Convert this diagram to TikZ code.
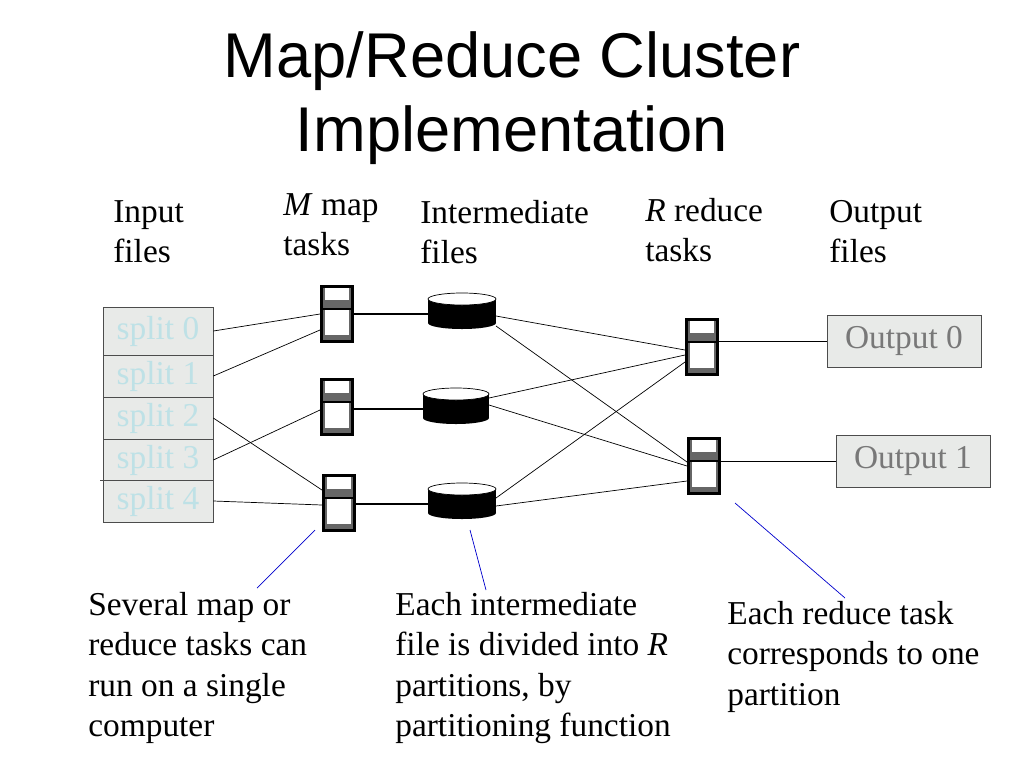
\documentclass[tikz,border=0pt]{standalone}
\usepackage{fontspec}
\setmainfont{Liberation Serif}
\newfontfamily\titlefont{Liberation Sans}
\usetikzlibrary{positioning}
\definecolor{splitfill}{RGB}{232,234,232}
\definecolor{splittext}{RGB}{190,225,230}
\definecolor{outtext}{RGB}{120,120,120}
\newcommand{\computer}[2]{% name, top-left
  \begin{scope}[shift={#2}]
    \fill[black] (0,0) rectangle (34,58);
    \fill[black!60] (3,3) rectangle (31,55);
    \fill[white] (5,3) rectangle (29,15);
    \fill[white] (5,24) rectangle (29,50);
    \draw[very thick] (3,24) -- (31,24);
    \coordinate (#1) at (17,29);
  \end{scope}}
\newcommand{\disk}[3]{% name, center of top, width
  \begin{scope}[shift={#2}]
    \fill[black] (-#3/2,0) rectangle (#3/2,24);
    \fill[black] (0,24) ellipse[x radius=#3/2,y radius=6];
    \draw[fill=white] (0,0) ellipse[x radius=#3/2,y radius=6];
    \coordinate (#1) at (0,12);
  \end{scope}}
\begin{document}
\begin{tikzpicture}[x=0.02cm,y=-0.02cm,
    header/.style={font=\fontsize{19}{23}\selectfont, align=left, anchor=north west, inner sep=0pt},
    note/.style={font=\fontsize{19}{23}\selectfont, align=left, anchor=north west, inner sep=0pt},
    split/.style={draw=black!70, fill=splitfill, minimum width=2.2cm, minimum height=0.84cm, inner sep=0pt, text=splittext, font=\fontsize{19}{20}\selectfont},
    outbox/.style={draw=black!70, fill=splitfill, minimum width=3.08cm, minimum height=1.04cm, inner sep=0pt, text=outtext, font=\fontsize{19}{20}\selectfont},
    link/.style={thin},
    pipe/.style={line width=1.6pt},
    pointer/.style={blue!80!black, thin}
  ]
\useasboundingbox (0,0) rectangle (1024,768);

% Title
\node[font=\titlefont\fontsize{36}{42}\selectfont, align=center] (title) at (512,98) {Map/Reduce Cluster\\Implementation};

% Column headers
\node[header] (hin) at (113,200) {Input\\files};
\node[header] (hmap) at (283,193) {\textit{M} map\\tasks};
\node[header] (hint) at (420,200) {Intermediate\\files};
\node[header] (hred) at (645,198) {\textit{R} reduce\\tasks};
\node[header] (hout) at (829,200) {Output\\files};

% Input splits
\node[split, minimum height=0.96cm] (s0) at (158,331) {split 0};
\node[split] (s1) at (158,376) {split 1};
\node[split] (s2) at (158,418) {split 2};
\node[split] (s3) at (158,460) {split 3};
\node[split] (s4) at (158,501) {split 4};
\draw[black!70] (100,480) -- (103,480);

% Machines and intermediate files
\computer{m0}{(320,285)}
\computer{m1}{(320,378)}
\computer{m2}{(322,474)}
\computer{r0}{(685,318)}
\computer{r1}{(687,437)}
\disk{d0}{(462,299)}{68}
\disk{d1}{(456,394)}{66}
\disk{d2}{(462,489)}{68}

% Outputs
\node[outbox] (o0) at (904,341) {Output 0};
\node[outbox] (o1) at (913,461) {Output 1};

% Splits to map tasks
\draw[link] (s0.east) -- (320,314);
\draw[link] (s1.east) -- (320,330);
\draw[link] (s2.east) -- (322,490);
\draw[link] (s3.east) -- (320,410);
\draw[link] (s4.east) -- (322,505);

% Map tasks to intermediate files
\draw[pipe] (354,314) -- (428,314);
\draw[pipe] (354,409) -- (423,409);
\draw[pipe] (356,504) -- (429,504);

% Intermediate files to reduce tasks
\draw[link] (496,316) -- (685,350);
\draw[link] (496,326) -- (687,462);
\draw[link] (489,398) -- (685,355);
\draw[link] (489,405) -- (687,466);
\draw[link] (496,498) -- (685,362);
\draw[link] (496,506) -- (687,481);

% Reduce tasks to outputs
\draw[link] (718,341) -- (o0.west);
\draw[link] (720,461) -- (o1.west);

% Notes
\node[note] (n0) at (88,592) {Several map or\\reduce tasks can\\run on a single\\computer};
\node[note] (n1) at (395,592) {Each intermediate\\file is divided into \textit{R}\\partitions, by\\partitioning function};
\node[note] (n2) at (727,601) {Each reduce task\\corresponds to one\\partition};
\coordinate (p0) at (315,530);
\coordinate (p1) at (470,530);
\coordinate (p2) at (735,503);
\draw[pointer] (257,588) -- (p0);
\draw[pointer] (486,590) -- (p1);
\draw[pointer] (845,598) -- (p2);
\end{tikzpicture}
\end{document}
